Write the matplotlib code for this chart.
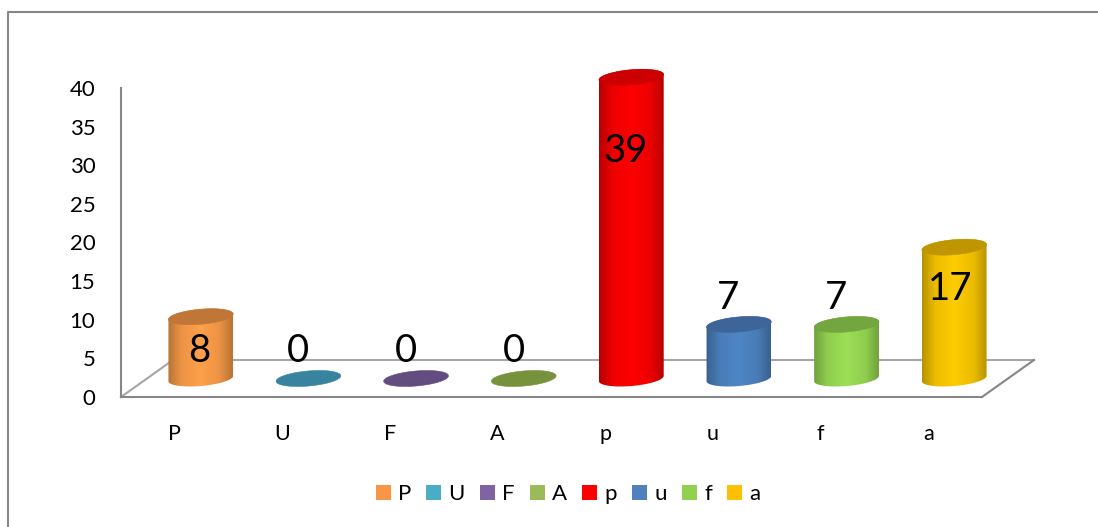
# -*- coding:utf-8 -*-
import numpy as np
import matplotlib
matplotlib.use('Agg')
import matplotlib.pyplot as plt
from matplotlib.colors import LinearSegmentedColormap
from matplotlib.lines import Line2D
from matplotlib.patches import Patch, Polygon

plt.rcParams['font.family'] = ['Lato', 'DejaVu Sans']

categories = ['P', 'U', 'F', 'A', 'p', 'u', 'f', 'a']
values = [8, 0, 0, 0, 39, 7, 7, 17]
y_ticks = [0, 5, 10, 15, 20, 25, 30, 35, 40]

legend_colors = ['#F79646', '#4BACC6', '#8064A2', '#9BBB59',
                 '#FF0000', '#4F81BD', '#92D050', '#FFC000']
body_colors = ['#FFA04B', '#4BACC6', '#8064A2', '#9BBB59',
               '#FF0000', '#4F86C6', '#9CDF55', '#FFCC00']
cap_colors = ['#BF7636', '#38849E', '#634C7F', '#76923C',
              '#CC0000', '#3D659A', '#74A640', '#C09600']

# label offsets from the cylinder top centre, in pixels (up is positive)
label_dx = [-2, -10, -10, -10, -6, -11, -11, -4]
label_dy = [-34, 27, 27, 27, -74, 26, 26, -42]

W, H = 1098, 527
AX_L, AX_R, AX_T, AX_B = 121, 982, 88, 397
DEPTH_X, DEPTH_Y = 26, 18.5   # floor centre line relative to the front edge
SEMI_A, SEMI_B, TILT = 32.5, 7.5, np.radians(5)

fig = plt.figure(figsize=(W / 100, H / 100), dpi=100)
ax = fig.add_axes([AX_L / W, 1 - AX_B / H, (AX_R - AX_L) / W, (AX_B - AX_T) / H])
ax.patch.set_visible(False)

px_x = (AX_R - AX_L) / len(categories)
px_y = (AX_B - AX_T) / y_ticks[-1]


def outline(cx, cy, t):
    # tilted ellipse around (cx, cy), the sizes are pixels, the result is data
    dx = SEMI_A * np.cos(t) * np.cos(TILT) - SEMI_B * np.sin(t) * np.sin(TILT)
    dy = SEMI_A * np.cos(t) * np.sin(TILT) + SEMI_B * np.sin(t) * np.cos(TILT)
    return np.column_stack([cx + dx / px_x, cy + dy / px_y])


def shade_cmap(color):
    rgb = np.array(matplotlib.colors.to_rgb(color))
    stops = [(0.0, 0.72), (0.2, 0.92), (0.5, 1.0), (0.8, 0.92), (1.0, 0.72)]
    return LinearSegmentedColormap.from_list(
        'shade', [(p, tuple(rgb * k)) for p, k in stops])


# chart frame, open on the right and at the bottom
frame = Line2D([7.5 / W, 7.5 / W, 1], [0, 1 - 11.5 / H, 1 - 11.5 / H],
               transform=fig.transFigure, color='#868686', lw=1.5)
fig.add_artist(frame)

# floor
dx_floor = 2 * DEPTH_X / px_x
dy_floor = 2 * DEPTH_Y / px_y
x0, x1 = -0.5, len(categories) - 0.5
ax.plot([x0 + dx_floor, x1 + dx_floor], [dy_floor, dy_floor], color='#A6A6A6', lw=1.5,
        clip_on=False, zorder=1, solid_capstyle='round')
ax.plot([x1, x1 + dx_floor], [0, dy_floor], color='#868686', lw=1.5,
        clip_on=False, zorder=1)
ax.plot([x0, x0 + dx_floor], [0, dy_floor], color='#A6A6A6', lw=1.5,
        clip_on=False, zorder=1)
ax.plot([x0, x1], [0, 0], color='#868686', lw=1.5, clip_on=False, zorder=1)

base_y = DEPTH_Y / px_y
gradient = np.linspace(0, 1, 128).reshape(1, -1)
for i, v in enumerate(values):
    cx = i + DEPTH_X / px_x
    top = base_y + v
    t0 = np.arctan2(-SEMI_B * np.sin(TILT), SEMI_A * np.cos(TILT))
    if v > 0:
        lower = outline(cx, base_y, np.linspace(t0 + np.pi, t0 + 2 * np.pi, 60))
        upper = outline(cx, top, np.linspace(t0, t0 + np.pi, 60))
        body = Polygon(np.vstack([lower, upper]), closed=True, fc='none', ec='none',
                       transform=ax.transData)
        ax.add_patch(body)
        im = ax.imshow(gradient, extent=[cx - SEMI_A / px_x, cx + SEMI_A / px_x, base_y - 2, top + 2],
                       aspect='auto', cmap=shade_cmap(body_colors[i]), zorder=2,
                       interpolation='bilinear')
        im.set_clip_path(body)
        im.set_clip_box(fig.bbox)
    cap = Polygon(outline(cx, top, np.linspace(0, 2 * np.pi, 120)), closed=True,
                  fc=cap_colors[i], ec=cap_colors[i], lw=0.4, zorder=3, clip_on=False)
    ax.add_patch(cap)
    ax.text(cx + label_dx[i] / px_x, top + label_dy[i] / px_y, str(v), ha='center', va='center',
            fontsize=27.5, color='black', zorder=5, clip_on=False)

ax.set_xlim(x0, x1)
ax.set_ylim(0, y_ticks[-1])
ax.set_xticks(range(len(categories)))
ax.set_xticklabels(categories, fontsize=15.5)
ax.set_yticks(y_ticks)
ax.tick_params(axis='y', length=0, pad=18.5, labelsize=16)
ax.tick_params(axis='x', length=0, pad=19.5)
for name in ['top', 'right', 'bottom']:
    ax.spines[name].set_visible(False)
ax.spines['left'].set_color('#868686')
ax.spines['left'].set_linewidth(1.5)

handles = [Patch(fc=c, ec='none', label=n) for c, n in zip(legend_colors, categories)]
fig.legend(handles=handles, ncol=len(handles), loc='center', fontsize=16, frameon=False,
           bbox_to_anchor=(568 / W, 1 - 494 / H), handlelength=0.68, handleheight=0.68,
           handletextpad=0.32, columnspacing=0.68, borderpad=0)

fig.savefig('out.png', dpi=100)
